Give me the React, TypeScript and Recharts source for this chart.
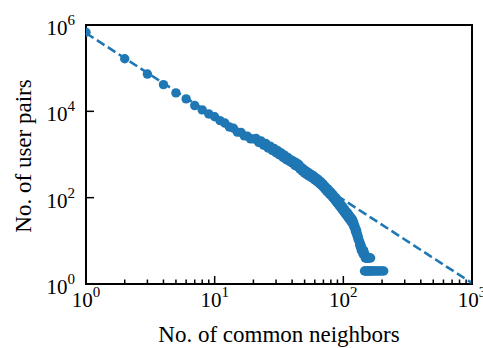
import React from 'react';
import { ScatterChart, Scatter, XAxis, YAxis, ReferenceArea, ReferenceLine, Label } from 'recharts';

// observed pairs: x = 1, 2, 3 ... (consecutive neighbour counts)
const firstNeighbors = 1;
const pairCounts = [
  680000, 165000, 73000, 41500, 26700, 19400, 13600, 10800, 8700, 7500,
  6100, 5350, 4350, 4050, 3300, 3250, 2700, 2650, 2300, 2300,
  2350, 1900, 2050, 1650, 1800, 1420, 1560, 1250, 1380, 1100,
  1220, 980, 1080, 860, 960, 760, 860, 700, 760, 640,
  700, 560, 650, 520, 590, 460, 510, 410, 460, 370,
  420, 340, 390, 320, 360, 300, 335, 280, 318, 258,
  290, 240, 272, 222, 250, 205, 232, 190, 212, 172,
  194, 158, 176, 144, 162, 132, 150, 122, 138, 114,
  128, 104, 118, 96, 108, 88, 100, 80, 92, 74,
  84, 68, 78, 63, 72, 58, 66, 53, 61, 49,
  56, 45, 52, 42, 48, 39, 45, 36, 42, 34,
  39, 31, 36, 29, 34, 27, 32, 25, 29, 22,
  25, 20, 22, 17, 19, 15, 17, 13, 14, 11,
  12, 10, 10, 8, 9, 7, 8, 6, 7, 6,
];

// sparse tail
const tailNeighbors = [141, 142, 144, 145, 147, 148, 150, 151, 153, 155, 157, 160, 163, 146, 149, 152, 156, 159, 162, 166, 170, 175, 180, 186, 192, 199, 206];
const tailCounts = [6, 5, 6, 5, 5, 4, 4, 4, 4, 4, 4, 4, 4, 2, 2, 2, 2, 2, 2, 2, 2, 2, 2, 2, 2, 2, 2];

// power-law fit
const fitNeighbors = [1, 1000];
const fitCounts = [650000, 1.05];

const xTicks = [1, 2, 3, 4, 5, 6, 7, 8, 9, 10, 20, 30, 40, 50, 60, 70, 80, 90, 100, 200, 300, 400, 500, 600, 700, 800, 900, 1000];
const yTicks = [1, 100, 10000, 1000000];

const points = [
  ...pairCounts.map((y, i) => ({ x: firstNeighbors + i, y })),
  ...tailNeighbors.map((x, i) => ({ x, y: tailCounts[i] })),
];
const fitSegment = fitNeighbors.map((x, i) => ({ x, y: fitCounts[i] }));

const BLUE = '#1f77b4';
const FONT = '"Liberation Serif", "Times New Roman", serif';

const exponent = (v: number) => {
  const e = Math.round(Math.log10(v));
  return { e, major: Math.abs(Math.log10(v) - e) < 1e-9 };
};

const XTick = (props: any) => {
  const { x, y, payload } = props;
  const { e, major } = exponent(payload.value);
  return (
    <g>
      <line x1={x} x2={x} y1={y} y2={y - (major ? 8 : 4.5)} stroke="#000" strokeWidth={1.5} />
      {major && (
        <text x={x} y={y + 23} textAnchor="middle" fontFamily={FONT} fontSize={21} fill="#000">
          <tspan>10</tspan>
          <tspan dy={-10} fontSize={15}>{e}</tspan>
        </text>
      )}
    </g>
  );
};

const YTick = (props: any) => {
  const { x, y, payload } = props;
  const { e } = exponent(payload.value);
  return (
    <g>
      <line x1={x} x2={x + 8} y1={y} y2={y} stroke="#000" strokeWidth={1.5} />
      <text x={x - 11} y={y + 10} textAnchor="end" fontFamily={FONT} fontSize={21} fill="#000">
        <tspan>10</tspan>
        <tspan dy={-10} fontSize={15}>{e}</tspan>
      </text>
    </g>
  );
};

const Dot = (props: any) => <circle cx={props.cx} cy={props.cy} r={4.7} fill={BLUE} />;

export default function App() {
  return (
    <div style={{ position: 'absolute', left: 0, top: 0, width: 483, height: 348, background: '#fff' }}>
      <ScatterChart width={483} height={348} margin={{ top: 25, right: 11, bottom: 0, left: 0 }}>
        <XAxis
          type="number"
          dataKey="x"
          scale="log"
          domain={[1, 1000]}
          ticks={xTicks}
          interval={0}
          allowDataOverflow
          height={64}
          axisLine={false}
          tickLine={false}
          tickSize={0}
          tickMargin={0}
          tick={<XTick />}
        >
          <Label
            content={() => (
              <text x={279} y={342} textAnchor="middle" fontFamily={FONT} fontSize={23} fill="#000">
                No. of common neighbors
              </text>
            )}
          />
        </XAxis>
        <YAxis
          type="number"
          dataKey="y"
          scale="log"
          domain={[1, 1000000]}
          ticks={yTicks}
          interval={0}
          allowDataOverflow
          width={86}
          axisLine={false}
          tickLine={false}
          tickSize={0}
          tickMargin={0}
          tick={<YTick />}
        >
          <Label
            content={() => (
              <text
                x={31}
                y={156}
                textAnchor="middle"
                transform="rotate(-90, 31, 156)"
                fontFamily={FONT}
                fontSize={23}
                fill="#000"
              >
                No. of user pairs
              </text>
            )}
          />
        </YAxis>
        <ReferenceLine
          segment={fitSegment}
          stroke={BLUE}
          strokeWidth={2.6}
          strokeDasharray="9 4"
          ifOverflow="visible"
        />
        <Scatter data={points} fill={BLUE} shape={<Dot />} isAnimationActive={false} />
        <ReferenceArea
          x1={1}
          x2={1000}
          y1={1}
          y2={1000000}
          fill="none"
          fillOpacity={0}
          stroke="#000"
          strokeWidth={2}
          ifOverflow="visible"
        />
      </ScatterChart>
    </div>
  );
}
